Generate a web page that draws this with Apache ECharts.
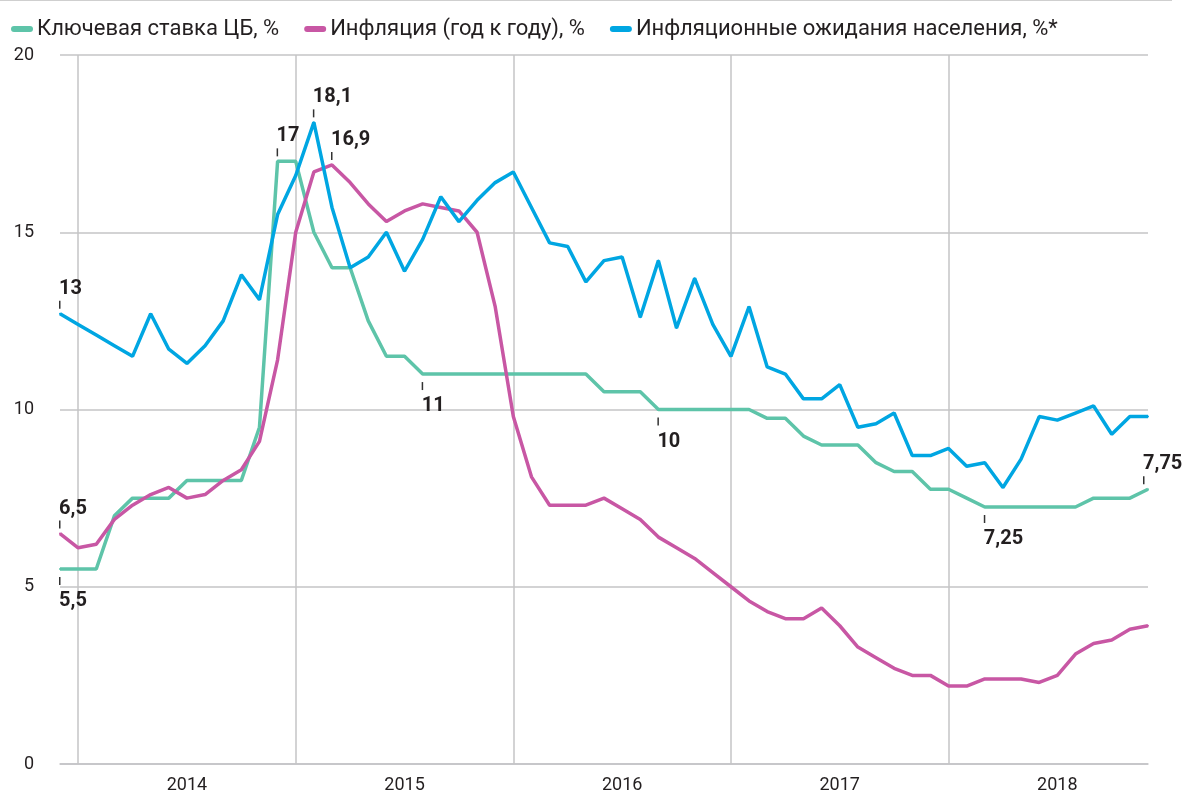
<!DOCTYPE html>
<html>
<head>
<meta charset="utf-8">
<script src="https://cdn.jsdelivr.net/npm/echarts@6/dist/echarts.min.js"></script>
<style>
  html, body { margin: 0; padding: 0; background: #fff; }
  #container { width: 1183px; height: 796px; }
</style>
</head>
<body>
<div id="container"></div>
<script>
// месяцы, конец месяца: дек 2013 - дек 2018
var months = [
	'2013-12',
	'2014-01','2014-02','2014-03','2014-04','2014-05','2014-06','2014-07','2014-08','2014-09','2014-10','2014-11','2014-12',
	'2015-01','2015-02','2015-03','2015-04','2015-05','2015-06','2015-07','2015-08','2015-09','2015-10','2015-11','2015-12',
	'2016-01','2016-02','2016-03','2016-04','2016-05','2016-06','2016-07','2016-08','2016-09','2016-10','2016-11','2016-12',
	'2017-01','2017-02','2017-03','2017-04','2017-05','2017-06','2017-07','2017-08','2017-09','2017-10','2017-11','2017-12',
	'2018-01','2018-02','2018-03','2018-04','2018-05','2018-06','2018-07','2018-08','2018-09','2018-10','2018-11','2018-12'
];
var yearLabels = ['2014', '2015', '2016', '2017', '2018'];
var yTicks = [0, 5, 10, 15, 20];

var keyRate = [5.5,5.5,5.5,7,7.5,7.5,7.5,8,8,8,8,9.5,
	17,17,15,14,14,12.5,11.5,11.5,11,11,11,11,
	11,11,11,11,11,11,10.5,10.5,10.5,10,10,10,
	10,10,10,9.75,9.75,9.25,9,9,9,8.5,8.25,8.25,
	7.75,7.75,7.5,7.25,7.25,7.25,7.25,7.25,7.25,7.5,7.5,7.5,
	7.75];
var inflation = [6.5,6.1,6.2,6.9,7.3,7.6,7.8,7.5,7.6,8.0,8.3,9.1,
	11.4,15.0,16.7,16.9,16.4,15.8,15.3,15.6,15.8,15.7,15.6,15.0,
	12.9,9.8,8.1,7.3,7.3,7.3,7.5,7.2,6.9,6.4,6.1,5.8,
	5.4,5.0,4.6,4.3,4.1,4.1,4.4,3.9,3.3,3.0,2.7,2.5,
	2.5,2.2,2.2,2.4,2.4,2.4,2.3,2.5,3.1,3.4,3.5,3.8,
	3.9];
var expectations = [12.7,12.4,12.1,11.8,11.5,12.7,11.7,11.3,11.8,12.5,13.8,13.1,
	15.5,16.6,18.1,15.7,14.0,14.3,15.0,13.9,14.8,16.0,15.3,15.9,
	16.4,16.7,15.7,14.7,14.6,13.6,14.2,14.3,12.6,14.2,12.3,13.7,
	12.4,11.5,12.9,11.2,11.0,10.3,10.3,10.7,9.5,9.6,9.9,8.7,
	8.7,8.9,8.4,8.5,7.8,8.6,9.8,9.7,9.9,10.1,9.3,9.8,
	9.8];

var names = ['Ключевая ставка ЦБ, %', 'Инфляция (год к году), %', 'Инфляционные ожидания населения, %*'];
var colors = ['#5ec4a9', '#c857a4', '#00a6e2'];

// подписи значений: серия, индекс месяца, текст, сверху/снизу
var notes = [
	[0, 0, '5,5', 'bottom'],
	[0, 12, '17', 'top'],
	[0, 20, '11', 'bottom'],
	[0, 33, '10', 'bottom'],
	[0, 51, '7,25', 'bottom'],
	[0, 60, '7,75', 'top'],
	[1, 0, '6,5', 'top'],
	[1, 15, '16,9', 'top'],
	[2, 0, '13', 'top'],
	[2, 14, '18,1', 'top']
];

function build(values, s) {
	var out = values.map(function (v) { return { value: v }; });
	notes.forEach(function (n) {
		if (n[0] !== s) return;
		var top = n[3] === 'top';
		var txt = top ? '{v|' + n[2] + '}\n{t| }' : '{t| }\n{v|' + n[2] + '}';
		out[n[1]] = {
			value: values[n[1]],
			label: {
				show: true,
				position: n[3],
				align: 'left',
				distance: top ? 4 : 7,
				offset: n[1] === 60 ? [-5, 0] : [-1, 0],
				formatter: txt,
				rich: {
					v: { fontSize: 20, fontWeight: 'bold', fontFamily: 'Roboto', color: '#231f20', lineHeight: top ? 24 : 32 },
					t: { width: 1.5, height: 8, backgroundColor: '#333', fontSize: 1, lineHeight: 8 }
				}
			}
		};
	});
	return out;
}

var capsule = 'path://M3,0 H19 A3,3 0 0 1 19,6 H3 A3,3 0 0 1 3,0 Z';

var dom = document.getElementById('container');
var myChart = echarts.init(dom);
var option = {
	animation: false,
	color: colors,
	textStyle: { fontFamily: 'Roboto' },
	graphic: [{
		type: 'line',
		shape: { x1: 0, y1: 0.5, x2: 1172, y2: 0.5 },
		style: { stroke: '#cfcfcf', lineWidth: 1 }
	}],
	legend: {
		left: 6,
		top: 13,
		itemWidth: 22,
		itemHeight: 7,
		itemGap: 25,
		icon: capsule,
		textStyle: { fontSize: 22, color: '#231f20', fontFamily: 'Roboto', padding: [0, 0, 0, -1] },
		data: names
	},
	grid: { left: 60, right: 35, top: 55, bottom: 32 },
	xAxis: {
		type: 'category',
		data: months,
		boundaryGap: false,
		axisTick: { show: false },
		axisLine: { show: true, lineStyle: { color: '#c4c4c6', width: 1.5 } },
		splitLine: {
			show: true,
			interval: function (i, v) { return v.slice(5) === '01'; },
			lineStyle: { color: '#c4c4c6', width: 1.5 }
		},
		axisLabel: {
			interval: function (i, v) { return v.slice(5) === '07'; },
			formatter: function (v) {
				var y = v.slice(0, 4);
				return yearLabels.indexOf(y) >= 0 ? y : '';
			},
			fontSize: 18,
			color: '#231f20',
			margin: 12
		}
	},
	yAxis: {
		type: 'value',
		min: yTicks[0],
		max: yTicks[yTicks.length - 1],
		interval: 5,
		axisLine: { show: false },
		axisTick: { show: false },
		splitLine: { lineStyle: { color: '#c4c4c6', width: 1.5 } },
		axisLabel: { fontSize: 18, color: '#231f20', margin: 26 }
	},
	series: [keyRate, inflation, expectations].map(function (vals, s) {
		return {
			name: names[s],
			type: 'line',
			data: build(vals, s),
			symbol: 'circle',
			symbolSize: 2,
			showSymbol: true,
			lineStyle: { width: 3.5, color: colors[s] },
			itemStyle: { color: colors[s] },
			silent: true,
			z: 2 + s
		};
	})
};
myChart.setOption(option);
</script>
</body>
</html>
